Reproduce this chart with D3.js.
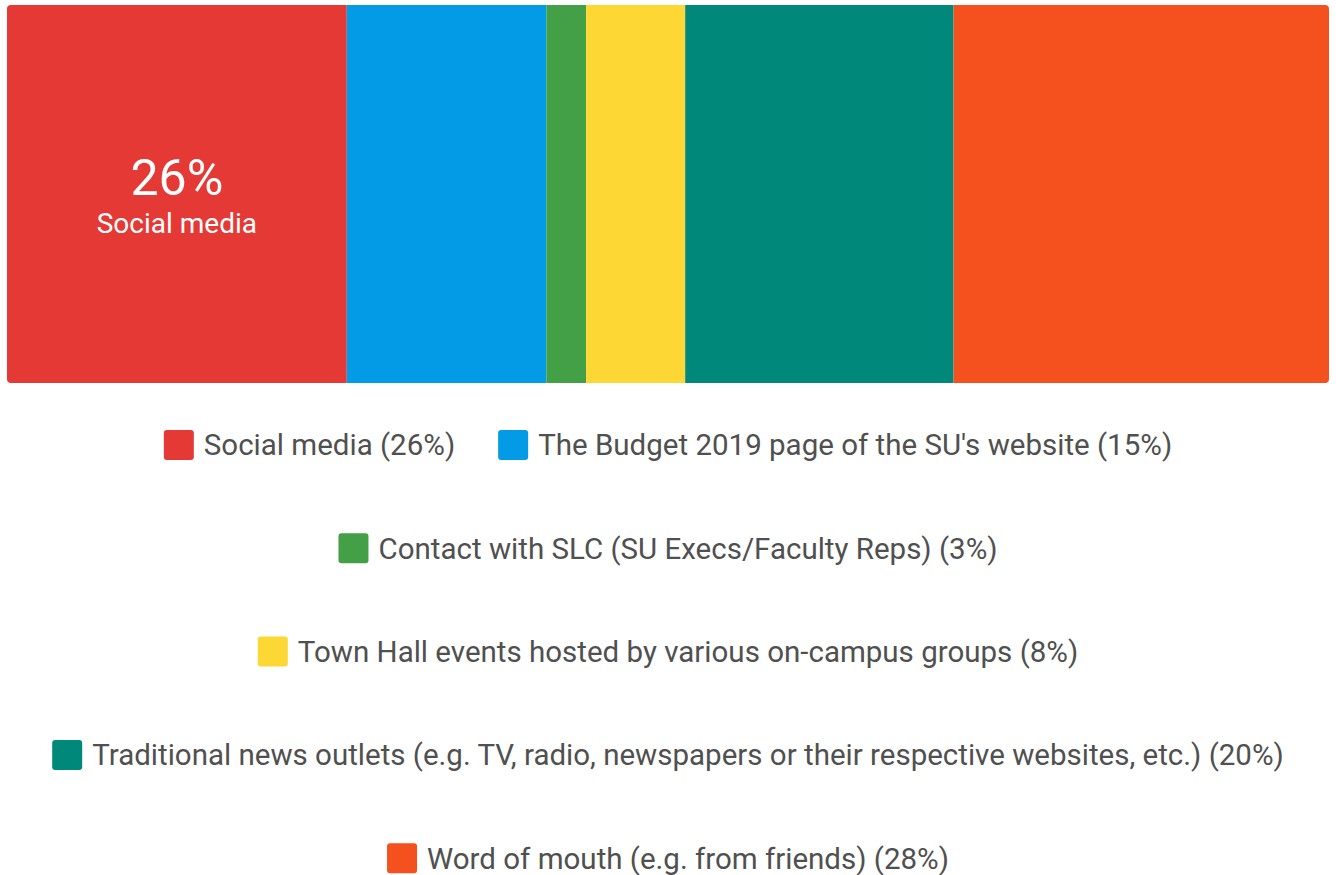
<!DOCTYPE html>
<html>
<head>
<meta charset="utf-8">
<script src="https://cdn.jsdelivr.net/npm/d3@7"></script>
<style>
  body { margin: 0; background: #fff; }
  text { font-family: Roboto, sans-serif; }
</style>
</head>
<body>
<div class="canvas"></div>
<script>
const categories = [
  'Social media',
  "The Budget 2019 page of the SU's website",
  'Contact with SLC (SU Execs/Faculty Reps)',
  'Town Hall events hosted by various on-campus groups',
  'Traditional news outlets (e.g. TV, radio, newspapers or their respective websites, etc.)',
  'Word of mouth (e.g. from friends)'
];
const values = [25.7, 15.1, 3.0, 7.5, 20.3, 28.4];
const colours = ['#e53935', '#039be5', '#43a047', '#fdd835', '#00897b', '#f4511e'];

const dims = {width: 1336, height: 875};
const bar = {x0: 7, x1: 1329, top: 5, bottom: 383, radius: 4};
const fontSize = 29.5;

const svg = d3.select('.canvas')
  .append('svg')
  .attr('width', dims.width)
  .attr('height', dims.height);

// stacked data
const data = categories.map((c, i) => ({name: c, value: values[i], colour: colours[i]}));
let acc = 0;
data.forEach(d => { d.start = acc; acc += d.value; d.end = acc; });

const x = d3.scaleLinear()
  .domain([0, acc])
  .range([bar.x0, bar.x1]);

// clip for rounded corners of the whole bar
svg.append('clipPath').attr('id', 'barClip')
  .append('rect')
  .attr('x', bar.x0).attr('y', bar.top)
  .attr('width', bar.x1 - bar.x0).attr('height', bar.bottom - bar.top)
  .attr('rx', bar.radius);

const graph = svg.append('g').attr('clip-path', 'url(#barClip)');

graph.selectAll('rect')
  .data(data)
  .enter()
  .append('rect')
  .attr('x', d => x(d.start))
  .attr('y', bar.top)
  .attr('width', d => x(d.end) - x(d.start))
  .attr('height', bar.bottom - bar.top)
  .attr('fill', d => d.colour);

// label on first segment
const first = data[0];
const cx = (x(first.start) + x(first.end)) / 2;
svg.append('text')
  .attr('x', cx).attr('y', 195)
  .attr('text-anchor', 'middle')
  .attr('fill', '#fff')
  .attr('font-size', 50)
  .text(Math.round(first.value) + '%');
svg.append('text')
  .attr('x', cx).attr('y', 233)
  .attr('text-anchor', 'middle')
  .attr('fill', '#fff')
  .attr('font-size', 28)
  .text(first.name);

// legend - flow layout, centred rows
const legend = {sw: 30, gap: 10, itemGap: 43, rowTop: 445, rowStep: 103.3, maxWidth: 1320};
const items = svg.append('g').selectAll('g')
  .data(data)
  .enter()
  .append('g');

items.append('rect')
  .attr('width', legend.sw).attr('height', legend.sw)
  .attr('rx', 3)
  .attr('y', -legend.sw / 2)
  .attr('fill', d => d.colour);

items.append('text')
  .attr('x', legend.sw + legend.gap)
  .attr('dy', '0.35em')
  .attr('font-size', fontSize)
  .attr('fill', '#505050')
  .text(d => `${d.name} (${Math.round(d.value)}%)`);

items.each(function(d) {
  d.w = legend.sw + legend.gap + d3.select(this).select('text').node().getComputedTextLength();
});

const rows = [];
let row = [];
let rowW = 0;
data.forEach(d => {
  const add = row.length ? legend.itemGap + d.w : d.w;
  if (row.length && rowW + add > legend.maxWidth) {
    rows.push({items: row, w: rowW});
    row = [d]; rowW = d.w;
  } else {
    row.push(d); rowW += add;
  }
});
rows.push({items: row, w: rowW});

rows.forEach((r, ri) => {
  let xPos = (dims.width - r.w) / 2;
  r.items.forEach(d => {
    d.lx = xPos; d.ly = legend.rowTop + ri * legend.rowStep;
    xPos += d.w + legend.itemGap;
  });
});

items.attr('transform', d => `translate(${d.lx}, ${d.ly})`);
</script>
</body>
</html>
